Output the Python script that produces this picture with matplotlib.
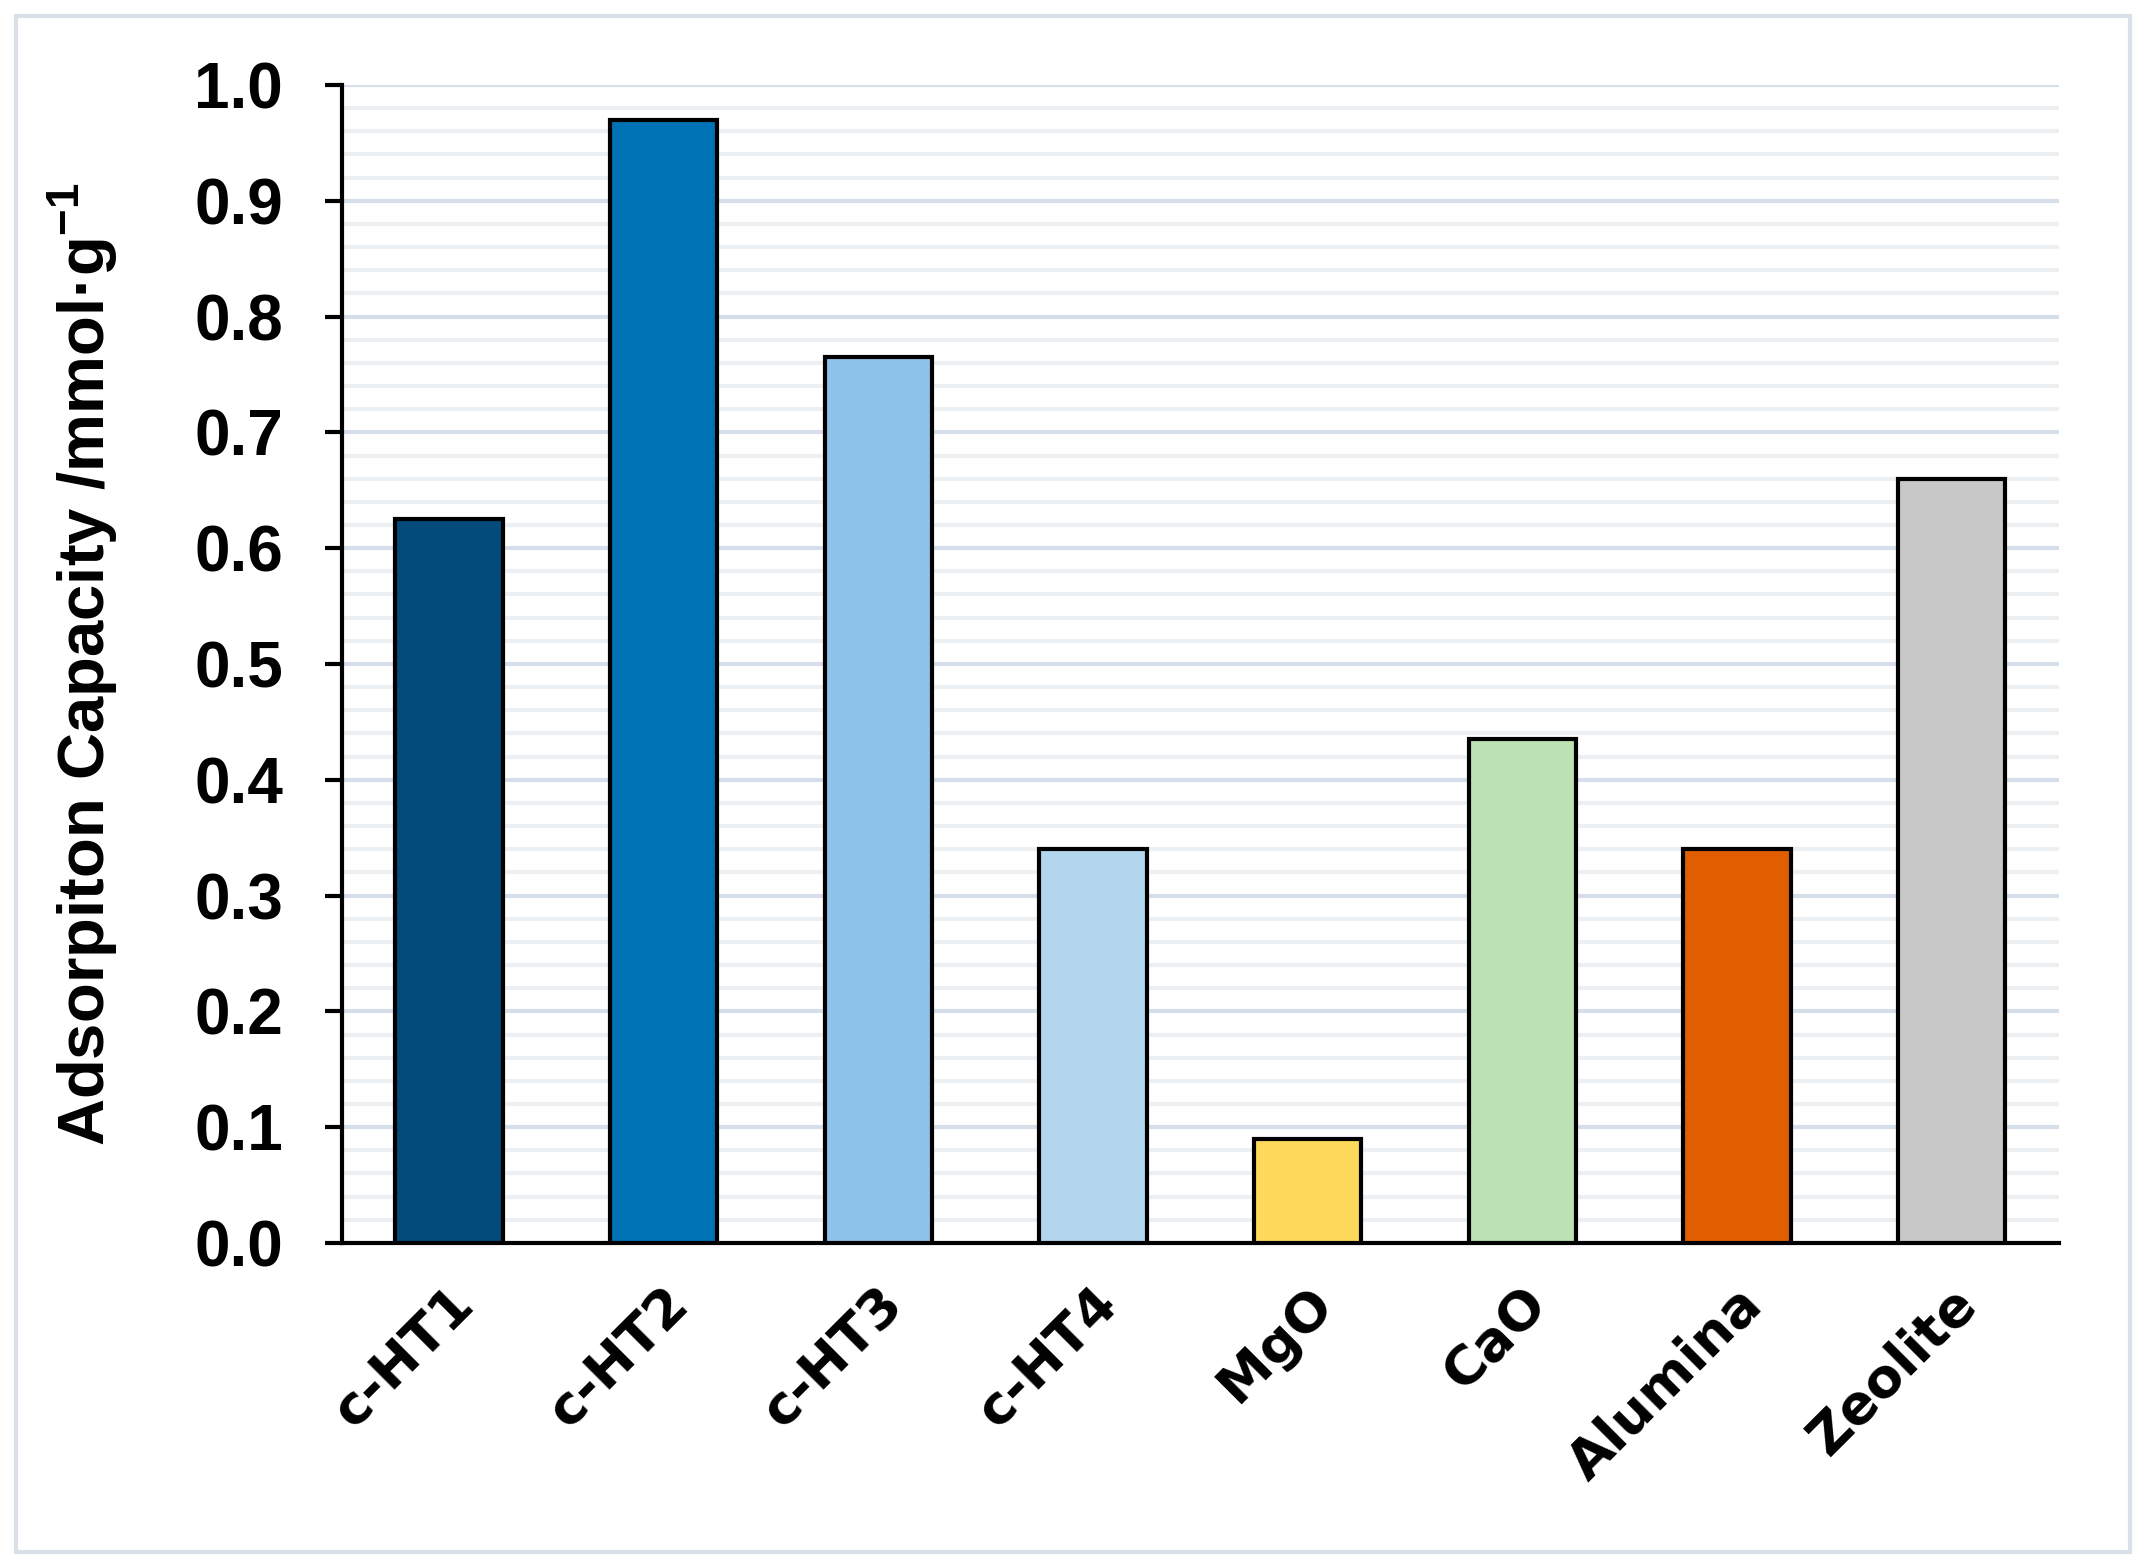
import numpy as np
import matplotlib
matplotlib.use("Agg")
import matplotlib.pyplot as plt
import matplotlib.transforms as mtransforms
from matplotlib.ticker import MultipleLocator, FormatStrFormatter
from matplotlib.patches import Rectangle

# data
materials = ["c-HT1", "c-HT2", "c-HT3", "c-HT4", "MgO", "CaO", "Alumina", "Zeolite"]
capacity = [0.625, 0.97, 0.765, 0.34, 0.09, 0.435, 0.34, 0.66]
bar_colors = ["#034B7A", "#0072B6", "#8DC3E8", "#B2D6EE", "#FFD95B", "#BCE1B3", "#E05D00", "#C8C8C8"]

plt.rcParams["mathtext.fontset"] = "custom"
plt.rcParams["mathtext.rm"] = "Liberation Sans:bold"

fig = plt.figure(figsize=(21.48, 15.68), dpi=100)
ax = fig.add_axes([0.159, 0.2073, 0.7996, 0.7385])

x = np.arange(len(materials))
ax.bar(x, capacity, width=0.5, color=bar_colors, edgecolor="black", linewidth=3, zorder=3)

ax.set_xlim(-0.5, len(materials) - 0.5)
ax.set_ylim(0, 1.0)
ax.yaxis.set_major_locator(MultipleLocator(0.1))
ax.yaxis.set_minor_locator(MultipleLocator(0.02))
ax.yaxis.set_major_formatter(FormatStrFormatter("%.1f"))

ax.set_axisbelow(True)
ax.grid(axis="y", which="major", color="#D6DFE9", linewidth=3)
ax.grid(axis="y", which="minor", color="#EDF0F3", linewidth=3)

for side in ["top", "right"]:
    ax.spines[side].set_visible(False)
ax.spines["left"].set_linewidth(3)
ax.spines["bottom"].set_linewidth(3)

ax.tick_params(axis="y", which="major", length=12, width=3, pad=30)
ax.tick_params(axis="y", which="minor", length=0)
ax.tick_params(axis="x", length=0, pad=38)
for lbl in ax.get_yticklabels():
    lbl.set_fontweight("bold")
    lbl.set_fontsize(46)
    lbl.set_family("Liberation Sans")

ax.set_xticks(x)
ax.set_xticklabels(materials, rotation=45, ha="right", va="center",
                   rotation_mode="anchor", fontsize=39, fontweight="bold")
# Excel puts the rotated labels a little right of the category centre
shift = mtransforms.ScaledTranslation(12 / 72, 0, fig.dpi_scale_trans)
for lbl in ax.get_xticklabels():
    lbl.set_transform(lbl.get_transform() + shift)

ax.set_ylabel("Adsorpiton Capacity /mmol·g$^{\\mathrm{-1}}$",
              fontsize=47, fontweight="bold", family="Liberation Sans")
ax.yaxis.set_label_coords(-0.129, 0.5)

# light frame round the whole picture
fig.patches.append(Rectangle((0.0075, 0.0105), 0.984, 0.979, transform=fig.transFigure,
                             fill=False, edgecolor="#D9E0E7", linewidth=3))

fig.savefig("out.png", dpi=100, facecolor="white")
